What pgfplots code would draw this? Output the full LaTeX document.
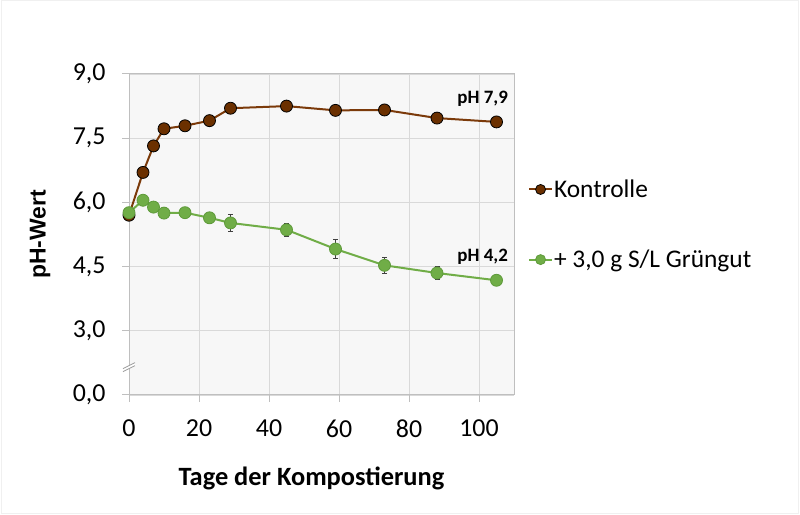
\documentclass[border=0pt]{standalone}
\usepackage{fontspec}
\setmainfont{Carlito}
\newfontfamily\arialfont{Liberation Sans}
\usepackage{pgfplots}
\pgfplotsset{compat=1.18}

\definecolor{kbrown}{HTML}{6B3000}
\definecolor{kline}{HTML}{7B3A0A}
\definecolor{ggreen}{HTML}{70AD47}
\definecolor{gedge}{HTML}{5E9A3A}
\definecolor{plotbg}{HTML}{F7F7F7}
\definecolor{gridc}{HTML}{D9D9D9}
\definecolor{axisc}{HTML}{BFBFBF}
\definecolor{framec}{HTML}{F0F0F0}

\begin{document}
\begin{tikzpicture}[x=1bp,y=1bp]
\path[fill=white] (0,0) rectangle (800,515);
\draw[framec, line width=0.8bp] (1.5,1.5) rectangle (798.5,514.5);
\begin{axis}[
    at={(129bp,120bp)}, anchor=south west,
    scale only axis, width=385bp, height=321bp,
    xmin=0, xmax=110, ymin=1.5, ymax=9,
    xtick={0,20,...,100},
    ytick={1.5,3,4.5,6,7.5,9},
    yticklabels={0{,}0,3{,}0,4{,}5,6{,}0,7{,}5,9{,}0},
    axis background/.style={fill=plotbg},
    grid=major, major grid style={gridc, line width=0.8bp},
    axis line style={axisc, line width=1bp},
    tick style={axisc, line width=1bp},
    tick align=outside, major tick length=7bp,
    xtick pos=bottom, ytick pos=left,
    /pgf/number format/assume math mode=true,
    tick label style={font=\fontsize{26}{30}\selectfont},
    xticklabel style={yshift=-14bp},
    yticklabel style={xshift=-13bp},
    xlabel={\bfseries Tage der Kompostierung},
    ylabel={\arialfont\bfseries pH-Wert},
    xlabel style={at={(axis description cs:0.474,-0.2586)}, anchor=center, font=\fontsize{26.5}{30}\selectfont},
    ylabel style={at={(axis description cs:-0.231,0.5)}, anchor=center, font=\fontsize{23}{27}\selectfont},
    clip=false,
    legend style={at={(1.036,0.531)}, anchor=west, draw=none, fill=none,
        font=\fontsize{25.5}{30}\selectfont, row sep=49bp, inner sep=0pt,
        nodes={inner sep=1bp}, cells={anchor=west}},
    legend image code/.code={\draw[#1, mark repeat=2, mark phase=2, mark size=5bp]
        plot coordinates {(0bp,0bp)(11.5bp,0bp)(23bp,0bp)};},
]
\addplot[kline, line width=2bp, mark=*, mark size=6bp,
    mark options={fill=kbrown, draw=black, line width=0.8bp},
    error bars/.cd, y dir=both, y explicit,
    error bar style={black!75, line width=0.8bp},
    error mark options={rotate=90, mark size=2.5bp, black!75, line width=0.8bp}]
coordinates {
    (0,5.70) +- (0,0.04)
    (4,6.70) +- (0,0.05)
    (7,7.32) +- (0,0.05)
    (10,7.72) +- (0,0.04)
    (16,7.79) +- (0,0.04)
    (23,7.91) +- (0,0.04)
    (29,8.20) +- (0,0.04)
    (45,8.25) +- (0,0.04)
    (59,8.15) +- (0,0.04)
    (73,8.16) +- (0,0.04)
    (88,7.97) +- (0,0.04)
    (105,7.88) +- (0,0.04)
};
\addlegendentry{Kontrolle}
\addplot[ggreen, line width=2bp, mark=*, mark size=6bp,
    mark options={fill=ggreen, draw=gedge, line width=0.8bp},
    error bars/.cd, y dir=both, y explicit,
    error bar style={black!75, line width=0.8bp},
    error mark options={rotate=90, mark size=2.5bp, black!75, line width=0.8bp}]
coordinates {
    (0,5.76) +- (0,0.05)
    (4,6.05) +- (0,0.05)
    (7,5.89) +- (0,0.05)
    (10,5.75) +- (0,0.05)
    (16,5.76) +- (0,0.06)
    (23,5.64) +- (0,0.08)
    (29,5.52) +- (0,0.19)
    (45,5.36) +- (0,0.15)
    (59,4.91) +- (0,0.22)
    (73,4.53) +- (0,0.19)
    (88,4.35) +- (0,0.15)
    (105,4.18) +- (0,0.05)
};
\addlegendentry{+ 3,0 g S/L Grüngut}
\node[anchor=base east, font=\bfseries\fontsize{19}{22}\selectfont, inner sep=0pt] at (axis cs:108.3,8.32) {pH 7,9};
\node[anchor=base east, font=\bfseries\fontsize{19}{22}\selectfont, inner sep=0pt] at (axis cs:108.3,4.63) {pH 4,2};
% axis break
\draw[white, line width=3bp, shift={(axis cs:0,2.15)}] (-6bp,-3bp) -- (6bp,3bp);
\draw[axisc!80!black, line width=0.8bp, shift={(axis cs:0,2.15)}] (-6bp,-4.5bp) -- (6bp,1.5bp) (-6bp,-1.5bp) -- (6bp,4.5bp);
\end{axis}
\end{tikzpicture}
\end{document}
